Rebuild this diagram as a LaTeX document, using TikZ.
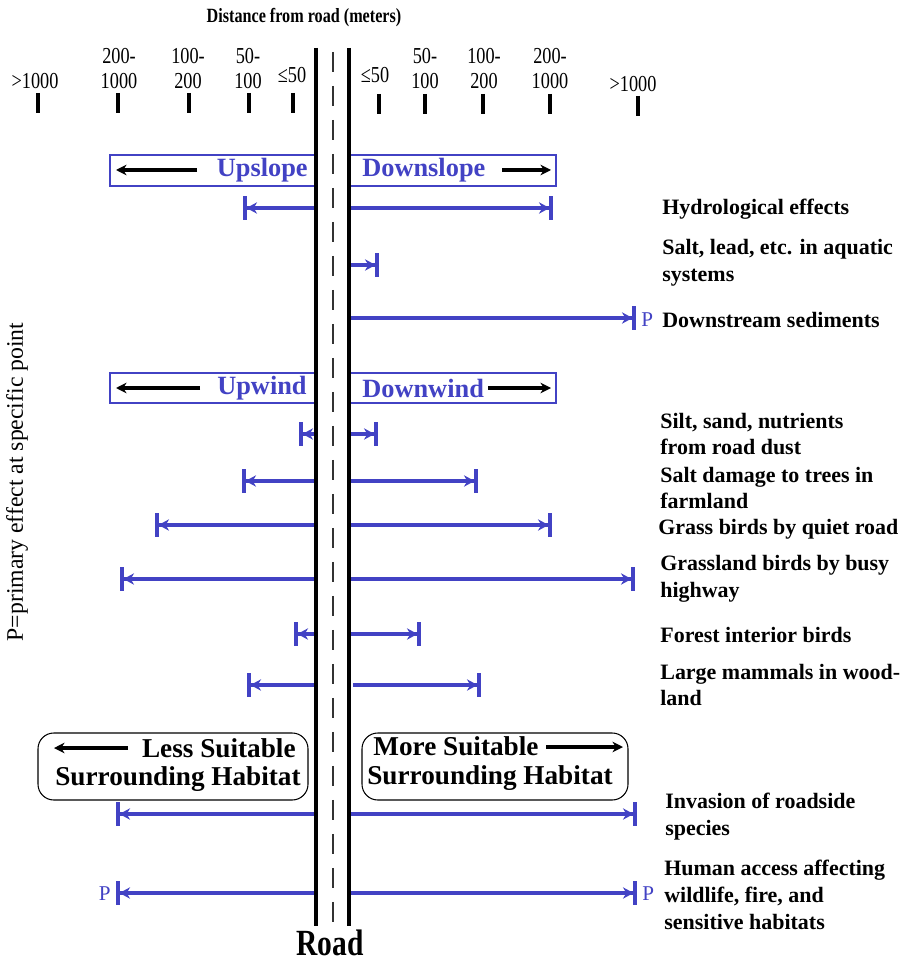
\documentclass[tikz,border=0pt]{standalone}
\usepackage{fontspec}
\setmainfont{Liberation Serif}
\newfontfamily\narrowserif{Liberation Serif}[FakeStretch=0.8]
\usetikzlibrary{arrows.meta}
\definecolor{effblue}{RGB}{66,66,196}

\begin{document}
\begin{tikzpicture}[x=0.02cm, y=-0.02cm,
  tick/.style={line width=2.4pt},
  dist/.style={inner sep=0pt, anchor=south, align=center, font=\narrowserif\fontsize{13}{14}\selectfont},
  effect/.style={effblue, line width=2pt, -{Stealth[length=6pt,width=6.5pt]Bar[width=13.5pt]}},
  lbl/.style={anchor=west, align=left, inner sep=0pt, font=\bfseries\fontsize{12.5}{15.3}\selectfont},
  head/.style={effblue, inner sep=0pt, font=\bfseries\fontsize{15}{17}\selectfont},
  headbox/.style={draw=effblue, line width=0.6pt},
  habbox/.style={draw, rounded corners=9pt, line width=0.6pt},
  hab/.style={inner sep=0pt, font=\bfseries\fontsize{15.5}{17}\selectfont},
  blk/.style={line width=2pt, -{Stealth[length=6pt,width=6pt]}},
  pmark/.style={effblue, inner sep=0pt, font=\fontsize{12}{14}\selectfont},
  road/.style={line width=2.4pt}]
\useasboundingbox (0,0) rectangle (903,962);

% distance scale
\node[font=\narrowserif\bfseries\fontsize{11.5}{13}\selectfont] (title) at (304,18) {Distance from road (meters)};
\node[dist] (dL5) at (35,89) {>1000};
\node[dist] (dL4) at (119,89) {200-\\1000};
\node[dist] (dL3) at (188,89) {100-\\200};
\node[dist] (dL2) at (248,89) {50-\\100};
\node[dist] (dL1) at (292,83) {≤50};
\node[dist] (dR1) at (375,83) {≤50};
\node[dist] (dR2) at (425,89) {50-\\100};
\node[dist] (dR3) at (484,89) {100-\\200};
\node[dist] (dR4) at (550,89) {200-\\1000};
\node[dist] (dR5) at (633,92) {>1000};
\draw[tick] (38,93) -- (38,113);
\draw[tick] (118,93) -- (118,113);
\draw[tick] (189,93) -- (189,113);
\draw[tick] (249,93) -- (249,113);
\draw[tick] (293,93) -- (293,113);
\draw[tick] (379,94) -- (379,114);
\draw[tick] (425,94) -- (425,114);
\draw[tick] (483,94) -- (483,114);
\draw[tick] (550,94) -- (550,114);
\draw[tick] (638,96) -- (638,116);

% slope
\draw[headbox] (110,155) rectangle (316,186);
\draw[headbox] (349,155) rectangle (556,186);
\node[head, anchor=east] (upslope) at (308,170) {Upslope};
\node[head, anchor=west] (downslope) at (362,170) {Downslope};
\coordinate (upA) at (197,170); \coordinate (upB) at (116,170);
\coordinate (dnA) at (502,170); \coordinate (dnB) at (551,170);
\draw[blk] (upA) -- (upB);
\draw[blk] (dnA) -- (dnB);

% hydrological effects
\coordinate (hyL0) at (316,208); \coordinate (hyL) at (243,208);
\coordinate (hyR0) at (349,208); \coordinate (hyR) at (553,208);
\draw[effect] (hyL0) -- (hyL);
\draw[effect] (hyR0) -- (hyR);
\node[lbl] (hydro) at (662,209) {Hydrological effects};

% salt, lead
\coordinate (slR0) at (349,265); \coordinate (slR) at (379,265);
\draw[effect] (slR0) -- (slR);
\node[lbl] (saltlead) at (662,263) {Salt, lead, etc. in aquatic\\systems};

% sediments
\coordinate (sdR0) at (349,318); \coordinate (sdR) at (636,318);
\draw[effect] (sdR0) -- (sdR);
\node[pmark, anchor=west] (sdP) at (641,320) {P};
\node[lbl] (sediment) at (662,320) {Downstream sediments};

% wind
\draw[headbox] (110,373) rectangle (316,403);
\draw[headbox] (349,373) rectangle (556,403);
\node[head, anchor=east] (upwind) at (307,388) {Upwind};
\node[head, anchor=west] (downwind) at (362,388) {Downwind};
\coordinate (uwA) at (200,388); \coordinate (uwB) at (116,388);
\coordinate (dwA) at (488,388); \coordinate (dwB) at (551,388);
\draw[blk] (uwA) -- (uwB);
\draw[blk] (dwA) -- (dwB);

% silt, sand
\coordinate (ssL0) at (316,434); \coordinate (ssL) at (299,434);
\coordinate (ssR0) at (349,434); \coordinate (ssR) at (378,434);
\draw[effect] (ssL0) -- (ssL);
\draw[effect] (ssR0) -- (ssR);
\node[lbl] (silt) at (660,434) {Silt, sand, nutrients\\from road dust};

% salt damage
\coordinate (sdmL0) at (316,481); \coordinate (sdmL) at (242,481);
\coordinate (sdmR0) at (349,481); \coordinate (sdmR) at (478,481);
\draw[effect] (sdmL0) -- (sdmL);
\draw[effect] (sdmR0) -- (sdmR);
\node[lbl] (saltdamage) at (660,488) {Salt damage to trees in\\farmland};

% grass birds
\coordinate (gqL0) at (316,525); \coordinate (gqL) at (155,525);
\coordinate (gqR0) at (349,525); \coordinate (gqR) at (552,525);
\draw[effect] (gqL0) -- (gqL);
\draw[effect] (gqR0) -- (gqR);
\node[lbl] (grassquiet) at (658,529) {Grass birds by quiet road};

% grassland birds
\coordinate (gbL0) at (316,579); \coordinate (gbL) at (120,579);
\coordinate (gbR0) at (349,579); \coordinate (gbR) at (635,579);
\draw[effect] (gbL0) -- (gbL);
\draw[effect] (gbR0) -- (gbR);
\node[lbl] (grassbusy) at (660,579) {Grassland birds by busy\\highway};

% forest birds
\coordinate (fbL0) at (316,634); \coordinate (fbL) at (294,634);
\coordinate (fbR0) at (349,634); \coordinate (fbR) at (421,634);
\draw[effect] (fbL0) -- (fbL);
\draw[effect] (fbR0) -- (fbR);
\node[lbl] (forest) at (660,635) {Forest interior birds};

% large mammals
\coordinate (lmL0) at (316,685); \coordinate (lmL) at (247,685);
\coordinate (lmR0) at (353,685); \coordinate (lmR) at (481,685);
\draw[effect] (lmL0) -- (lmL);
\draw[effect] (lmR0) -- (lmR);
\node[lbl] (mammals) at (660,685) {Large mammals in wood-\\land};

% habitat
\draw[habbox] (38,733) rectangle (308,800);
\draw[habbox] (362,733) rectangle (628,800);
\node[hab, anchor=east] (less) at (296,748) {Less Suitable};
\node[hab] (lessH) at (178,779) {Surrounding Habitat};
\node[hab, anchor=west] (more) at (373,746) {More Suitable};
\node[hab] (moreH) at (490,778) {Surrounding Habitat};
\coordinate (lsA) at (128,748); \coordinate (lsB) at (54,748);
\coordinate (msA) at (546,747); \coordinate (msB) at (623,747);
\draw[blk] (lsA) -- (lsB);
\draw[blk] (msA) -- (msB);

% invasion
\coordinate (ivL0) at (316,814); \coordinate (ivL) at (116,814);
\coordinate (ivR0) at (349,814); \coordinate (ivR) at (637,814);
\draw[effect] (ivL0) -- (ivL);
\draw[effect] (ivR0) -- (ivR);
\node[lbl] (invasion) at (665,817) {Invasion of roadside\\species};

% human access
\coordinate (haL0) at (316,893); \coordinate (haL) at (116,893);
\coordinate (haR0) at (349,893); \coordinate (haR) at (637,893);
\draw[effect] (haL0) -- (haL);
\draw[effect] (haR0) -- (haR);
\node[pmark, anchor=east] (haPL) at (111,894) {P};
\node[pmark, anchor=west] (haPR) at (642,894) {P};
\node[lbl] (human) at (664,895) {Human access affecting\\wildlife, fire, and\\sensitive habitats};

% road
\coordinate (rdLt) at (316,48); \coordinate (rdLb) at (316,926);
\coordinate (rdRt) at (349,48); \coordinate (rdRb) at (349,926);
\coordinate (rdCt) at (333,52); \coordinate (rdCb) at (333,926);
\draw[road] (rdLt) -- (rdLb);
\draw[road] (rdRt) -- (rdRb);
\draw[gray!40!black, line width=1.1pt, dash pattern=on 0.4cm off 0.28cm] (rdCt) -- (rdCb);
\node[font=\narrowserif\bfseries\fontsize{21}{23}\selectfont] (roadlbl) at (330,943) {Road};

% note
\node[rotate=90, font=\fontsize{13.5}{15}\selectfont] (note) at (17,482) {P=primary effect at specific point};
\end{tikzpicture}
\end{document}
